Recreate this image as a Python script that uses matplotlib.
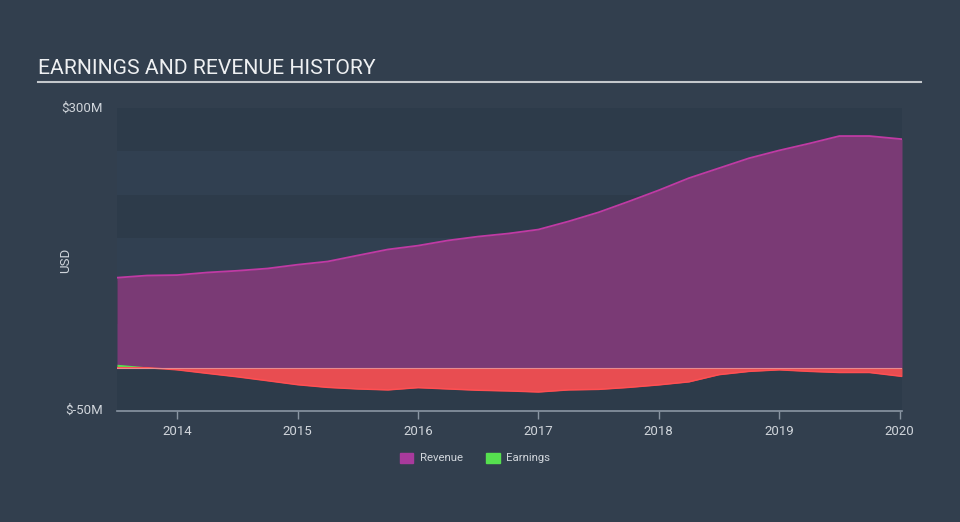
import numpy as np
import matplotlib
matplotlib.use("Agg")
import matplotlib.pyplot as plt
from matplotlib.patches import Patch

plt.rcParams['font.family'] = ['Roboto', 'DejaVu Sans']

# quarterly points, mid 2013 to start of 2020 (values in $M)
dates = [2013.5, 2013.75, 2014.0, 2014.25, 2014.5, 2014.75, 2015.0, 2015.25, 2015.5,
         2015.75, 2016.0, 2016.25, 2016.5, 2016.75, 2017.0, 2017.25, 2017.5, 2017.75,
         2018.0, 2018.25, 2018.5, 2018.75, 2019.0, 2019.25, 2019.5, 2019.75, 2020.02]
revenue = [104, 106.5, 107, 110, 112, 114.6, 119, 122.7, 129.7, 136.6, 141, 147, 151.5,
           155, 159.6, 169, 179.5, 192, 205, 219, 230.5, 242, 251, 259, 267.6, 267.6, 264]
earnings = [4, 1, -2.4, -6.5, -10.5, -15, -19.6, -22.7, -24.5, -25.6, -23, -24.5, -26,
            -26.8, -28, -25.6, -25, -22.7, -19.8, -16.3, -8, -4.2, -2.4, -4.2, -5.5, -5.5, -10]
years = [2014, 2015, 2016, 2017, 2018, 2019, 2020]

bg = '#323f4e'
txt = '#d0d5db'

fig = plt.figure(figsize=(9.6, 5.22), dpi=100, facecolor=bg)
ax = fig.add_axes([117/960, 1-411/522, 785/960, 303/522])
ax.set_facecolor('#314051')

for lo in [250, 150, 50, -50]:
    ax.axhspan(lo, lo + 50, color='#2d3b4a', zorder=0, lw=0)

x = np.array(dates)
rev = np.array(revenue)
ear = np.array(earnings)

ax.fill_between(x, 0, rev, color='#7a3a75', lw=0, zorder=2)
ax.plot(x, rev, color='#c03aa4', lw=1.3, zorder=3)

ax.fill_between(x, 0, ear, where=ear <= 0, interpolate=True, color='#e84d51', lw=0, zorder=2)
ax.fill_between(x, 0, ear, where=ear >= 0, interpolate=True, color='#56e04f', lw=0, zorder=2)
neg = np.minimum(ear, 0)
ax.plot(x, neg, color='#ff4f52', lw=1.1, zorder=3)
ax.axhline(0, color='#e88a8f', lw=0.8, zorder=3)

ax.set_xlim(dates[0], dates[-1])
ax.set_ylim(-50, 300)
ax.set_yticks([])
ax.set_xticks(years)
ax.set_xticklabels([str(y) for y in years], color=txt, fontsize=9.5)
ax.tick_params(axis='x', length=6, width=1, color='#8a96a3', pad=4)
for s in ['top', 'right', 'left']:
    ax.spines[s].set_visible(False)
ax.spines['bottom'].set_color('#8a96a3')
ax.spines['bottom'].set_linewidth(1.2)

fig.text(103/960, 1-108/522, '$300M', color=txt, fontsize=9.5, ha='right', va='center')
fig.text(103/960, 1-410/522, '$-50M', color=txt, fontsize=9.5, ha='right', va='center')
fig.text(66/960, 1-260/522, 'USD', color=txt, fontsize=9.5, rotation=90, ha='center', va='center')

fig.text(38/960, 1-69/522, 'EARNINGS AND REVENUE HISTORY', color='#eef0f2', fontsize=15.2,
         ha='left', va='center')
fig.add_artist(plt.Line2D([38/960, 921/960], [1-82/522, 1-82/522], color='#c4c8cc', lw=1.5))

handles = [Patch(color='#a83a9c', label='Revenue'), Patch(color='#56e04f', label='Earnings')]
fig.legend(handles=handles, loc='center', bbox_to_anchor=(475/960, 1-458/522), ncol=2,
           frameon=False, fontsize=8.2, labelcolor=txt, handlelength=1.2, handleheight=1.0,
           columnspacing=2.0, handletextpad=0.6)

fig.savefig('out.png', dpi=100, facecolor=bg)
